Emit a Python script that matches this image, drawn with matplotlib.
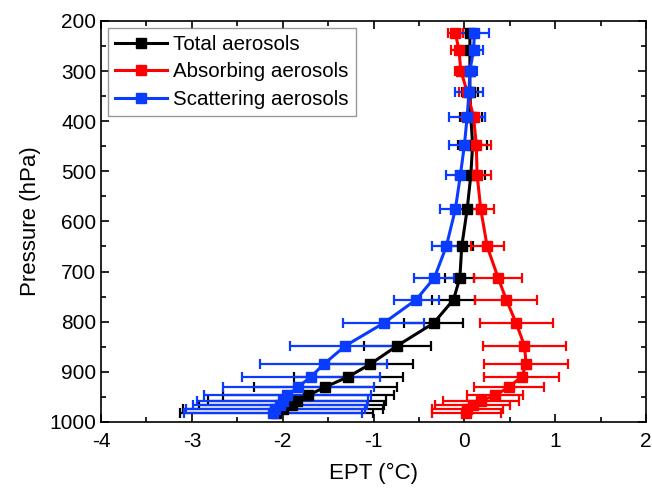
import numpy as np
import matplotlib
matplotlib.use('Agg')
import matplotlib.pyplot as plt
from matplotlib.ticker import MultipleLocator
from matplotlib.lines import Line2D

plt.rcParams['font.family'] = ['Liberation Sans', 'DejaVu Sans']
plt.rcParams['axes.unicode_minus'] = False

# pressure levels (hPa)
levels = [224, 259, 299, 342, 391, 447, 508, 576, 650, 712, 756,
          803, 848, 885, 910, 930, 947, 958, 967, 975, 982]

# Total aerosols
total = [0.06, 0.06, 0.06, 0.06, 0.07, 0.09, 0.07, 0.03, -0.03, -0.05, -0.12,
         -0.34, -0.74, -1.04, -1.28, -1.53, -1.72, -1.84, -1.90, -2.00, -2.07]
total_err = [0.08, 0.08, 0.07, 0.09, 0.12, 0.16, 0.16, 0.11, 0.12, 0.16, 0.24,
             0.32, 0.37, 0.47, 0.60, 0.79, 0.94, 0.98, 1.02, 1.10, 1.06]

# Absorbing aerosols
absorbing = [-0.10, -0.06, -0.04, 0.03, 0.10, 0.13, 0.14, 0.18, 0.25, 0.37, 0.46,
             0.57, 0.66, 0.68, 0.63, 0.49, 0.34, 0.18, 0.09, 0.03, 0.02]
absorbing_err = [0.08, 0.09, 0.06, 0.09, 0.13, 0.16, 0.15, 0.15, 0.18, 0.26, 0.34,
                 0.40, 0.46, 0.46, 0.41, 0.39, 0.31, 0.42, 0.41, 0.39, 0.38]

# Scattering aerosols
scattering = [0.11, 0.10, 0.06, 0.05, 0.03, 0.00, -0.045, -0.10, -0.20, -0.33, -0.53,
              -0.89, -1.31, -1.55, -1.69, -1.83, -1.95, -2.00, -2.03, -2.08, -2.11]
scattering_err = [0.16, 0.10, 0.08, 0.15, 0.20, 0.17, 0.16, 0.17, 0.155, 0.22, 0.25,
                  0.45, 0.61, 0.70, 0.76, 0.83, 0.92, 0.94, 0.96, 0.98, 0.98]

series = [
    ('Total aerosols', total, total_err, 'black'),
    ('Absorbing aerosols', absorbing, absorbing_err, '#ff0000'),
    ('Scattering aerosols', scattering, scattering_err, '#0a3cff'),
]

fig = plt.figure(figsize=(6.52, 4.97), dpi=100)
ax = fig.add_axes([0.155, 0.151, 0.836, 0.807])

handles = []
for label, vals, err, color in series:
    ax.errorbar(vals, levels, xerr=err, color=color, ecolor=color,
                marker='s', markersize=6.5, linewidth=2.2, elinewidth=1.6,
                capsize=3.5, capthick=1.6)
    handles.append(Line2D([0], [0], color=color, linewidth=2.2, marker='s',
                          markersize=6.5, label=label))

ax.set_xlim(-4, 2)
ax.set_ylim(1000, 200)
ax.xaxis.set_major_locator(MultipleLocator(1))
ax.xaxis.set_minor_locator(MultipleLocator(0.5))
ax.yaxis.set_major_locator(MultipleLocator(100))
ax.yaxis.set_minor_locator(MultipleLocator(50))
ax.tick_params(which='both', direction='in', top=True, right=True,
               labelsize=15, width=1.2)
ax.tick_params(which='major', length=6)
ax.tick_params(which='minor', length=3.5)
ax.tick_params(axis='x', pad=7)
for sp in ax.spines.values():
    sp.set_linewidth(1.2)

ax.set_xlabel('EPT (°C)', fontsize=16, labelpad=9)
ax.set_ylabel('Pressure (hPa)', fontsize=16, labelpad=6)

leg = ax.legend(handles=handles, loc='upper left', fontsize=14.8, frameon=True,
                fancybox=False, edgecolor='#808080', handlelength=2.5,
                borderaxespad=0.35, labelspacing=0.4, handletextpad=0.3,
                borderpad=0.35)
leg.get_frame().set_linewidth(1.0)

fig.savefig('out.png', dpi=100)
